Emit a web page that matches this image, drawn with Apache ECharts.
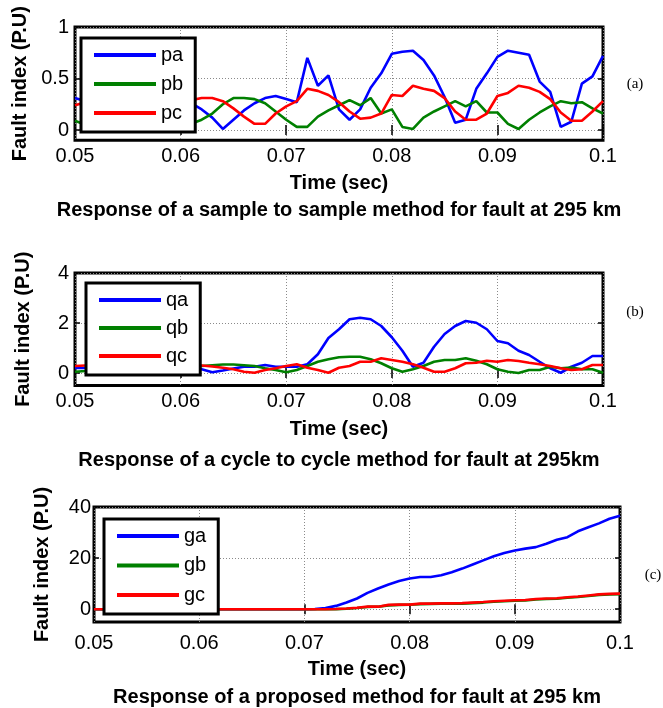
<!DOCTYPE html>
<html>
<head>
<meta charset="utf-8">
<script src="https://cdn.jsdelivr.net/npm/echarts@6/dist/echarts.min.js"></script>
<style>html,body{margin:0;padding:0;background:#fff;}#c{width:663px;height:708px;}</style>
</head>
<body>
<div id="c"></div>
<script>
// time samples (sec), one every 0.001 s from 0.05 to 0.1
const times = [0.050,0.051,0.052,0.053,0.054,0.055,0.056,0.057,0.058,0.059,
               0.060,0.061,0.062,0.063,0.064,0.065,0.066,0.067,0.068,0.069,
               0.070,0.071,0.072,0.073,0.074,0.075,0.076,0.077,0.078,0.079,
               0.080,0.081,0.082,0.083,0.084,0.085,0.086,0.087,0.088,0.089,
               0.090,0.091,0.092,0.093,0.094,0.095,0.096,0.097,0.098,0.099,0.100];

// (a) sample to sample method
const pa = [0.31,0.28,0.20,0.12,0.06,0.10,0.18,0.26,0.31,0.33,
            0.30,0.26,0.20,0.12,0.01,0.10,0.19,0.26,0.31,0.33,
            0.30,0.27,0.70,0.43,0.53,0.20,0.10,0.20,0.41,0.55,
            0.74,0.76,0.77,0.68,0.53,0.32,0.07,0.10,0.40,0.55,
            0.71,0.77,0.75,0.73,0.47,0.37,0.03,0.08,0.45,0.52,0.72];
const pb = [0.09,0.05,0.04,0.08,0.15,0.22,0.28,0.30,0.27,0.20,
            0.13,0.06,0.10,0.16,0.25,0.31,0.31,0.30,0.26,0.18,
            0.10,0.03,0.03,0.13,0.19,0.24,0.29,0.24,0.31,0.16,
            0.20,0.03,0.01,0.12,0.18,0.23,0.28,0.23,0.28,0.17,
            0.17,0.06,0.01,0.10,0.17,0.23,0.28,0.26,0.27,0.21,0.16];
const pc = [0.24,0.27,0.29,0.31,0.30,0.27,0.21,0.15,0.14,0.19,
            0.25,0.29,0.31,0.31,0.28,0.21,0.13,0.06,0.06,0.16,
            0.23,0.28,0.40,0.38,0.34,0.27,0.18,0.11,0.12,0.16,
            0.34,0.33,0.43,0.40,0.38,0.31,0.18,0.10,0.10,0.16,
            0.33,0.36,0.43,0.41,0.37,0.30,0.17,0.09,0.09,0.18,0.28];

// (b) cycle to cycle method
const qa = [0.20,0.20,0.22,0.25,0.20,0.15,0.10,0.12,0.20,0.28,
            0.30,0.25,0.15,0.03,0.10,0.18,0.25,0.25,0.32,0.25,
            0.25,0.25,0.35,0.75,1.40,1.75,2.15,2.21,2.15,1.88,
            1.43,0.89,0.25,0.41,1.05,1.56,1.88,2.08,2.01,1.75,
            1.28,1.19,0.89,0.72,0.45,0.19,0.01,0.25,0.41,0.68,0.68];
const qb = [0.05,0.08,0.12,0.18,0.22,0.25,0.25,0.22,0.18,0.15,
            0.20,0.25,0.28,0.31,0.34,0.34,0.31,0.28,0.19,0.12,
            0.03,0.12,0.28,0.45,0.55,0.63,0.65,0.65,0.55,0.39,
            0.19,0.05,0.15,0.28,0.45,0.52,0.52,0.59,0.49,0.35,
            0.15,0.05,0.00,0.12,0.12,0.25,0.19,0.22,0.15,0.15,0.01];
const qc = [0.28,0.30,0.32,0.30,0.28,0.25,0.22,0.25,0.28,0.30,
            0.32,0.33,0.30,0.26,0.21,0.15,0.05,0.01,0.12,0.19,
            0.28,0.35,0.21,0.12,0.01,0.21,0.28,0.45,0.45,0.59,
            0.52,0.45,0.35,0.21,0.05,0.05,0.19,0.39,0.41,0.49,
            0.45,0.52,0.48,0.41,0.35,0.28,0.19,0.12,0.15,0.32,0.32];

// (c) proposed method
const ga = [0,0,0,0,0,0,0,0,0,0,
            0,0,0,0,0,0,0,0,0,0,
            0,0.1,0.5,1.3,2.6,4.2,6.4,8.1,9.7,11.0,
            12.0,12.6,12.6,13.3,14.5,15.9,17.5,19.1,20.7,22.0,
            23.0,23.7,24.3,25.6,27.2,28.2,30.5,32.1,33.6,35.4,36.6];
const gb = [0,0,0,0,0,0,0,0,0,0,
            0,0,0,0,0,0,0,0,0,0,
            0,0,0,0.05,0.2,0.5,0.9,0.95,1.5,1.7,
            1.75,2.0,2.1,2.2,2.2,2.2,2.4,2.6,2.9,3.1,
            3.3,3.4,3.8,4.0,4.1,4.5,4.8,5.2,5.6,5.8,5.9];
const gc = [0,0,0,0,0,0,0,0,0,0,
            0,0,0,0,0,0,0,0,0,0,
            0,0,0,0.1,0.3,0.6,1.0,1.0,1.7,1.8,
            1.8,2.2,2.2,2.3,2.3,2.4,2.6,2.8,3.1,3.3,
            3.5,3.6,4.0,4.2,4.3,4.7,5.0,5.4,5.8,6.0,6.1];

const yTicksA = [0, 0.5, 1];
const yTicksB = [0, 2, 4];
const yTicksC = [0, 20, 40];

const titles = ['Response of a sample to sample method for fault at 295 km',
                'Response of a cycle to cycle method for fault at 295km',
                'Response of a proposed method for fault at 295 km'];
const panelTags = ['(a)', '(b)', '(c)'];
const xName = 'Time (sec)';
const yName = 'Fault index (P.U)';

const FONT = '"Liberation Sans", Arial, sans-serif';
const colors = ['#0000ff', '#008000', '#ff0000'];

const panels = [
  {grid:{left:75, top:27, width:528, height:113.3}, ymin:-0.1, ymax:1, yt:yTicksA, names:['pa','pb','pc'], vals:[pa,pb,pc],
   legend:{left:81, top:38, gap:9}, ylm:6, xlm:6, xng:33, title:{x:339, y:210}, tag:{x:635, y:84}},
  {grid:{left:75, top:273, width:528, height:112.5}, ymin:-0.5, ymax:4, yt:yTicksB, names:['qa','qb','qc'], vals:[qa,qb,qc],
   legend:{left:86, top:283, gap:8}, ylm:6, xlm:6, xng:34, title:{x:339, y:460}, tag:{x:635, y:312}},
  {grid:{left:94, top:507, width:526, height:115}, ymin:-5, ymax:40, yt:yTicksC, names:['ga','gb','gc'], vals:[ga,gb,gc],
   legend:{left:104, top:519, gap:9.5}, ylm:3, xlm:11, xng:37, title:{x:357, y:697}, tag:{x:653, y:575}}
];

const grid = [], xAxis = [], yAxis = [], series = [], legend = [], graphic = [];
const fmtX = v => String(parseFloat(v.toFixed(2)));

panels.forEach((p, i) => {
  grid.push(Object.assign({show:true, borderColor:'#000', borderWidth:3, backgroundColor:'#fff', containLabel:false}, p.grid));
  // bottom x axis
  xAxis.push({type:'value', gridIndex:i, min:0.05, max:0.1, interval:0.01, position:'bottom',
    axisLine:{show:false}, axisTick:{inside:true, length:5, lineStyle:{color:'#000', width:1.5}},
    axisLabel:{fontSize:20, color:'#000', fontFamily:FONT, margin:p.xlm, formatter:fmtX},
    splitLine:{show:true, lineStyle:{color:'#8a8a8a', type:[1,2], width:1}},
    name:xName, nameLocation:'middle', nameGap:p.xng,
    nameTextStyle:{fontSize:20, fontWeight:'bold', color:'#000', fontFamily:FONT}});
  // top x axis (ticks only)
  xAxis.push({type:'value', gridIndex:i, min:0.05, max:0.1, interval:0.01, position:'top',
    axisLine:{show:false}, axisTick:{inside:true, length:5, lineStyle:{color:'#000', width:1.5}},
    axisLabel:{show:false}, splitLine:{show:false}});
  // left y axis
  yAxis.push({type:'value', gridIndex:i, min:p.ymin, max:p.ymax, position:'left',
    axisLine:{show:false},
    axisTick:{inside:true, length:5, customValues:p.yt, lineStyle:{color:'#000', width:1.5}},
    axisLabel:{fontSize:20, color:'#000', fontFamily:FONT, margin:p.ylm, customValues:p.yt},
    splitLine:{show:true, lineStyle:{color:'#8a8a8a', type:[1,2], width:1}},
    name:yName, nameLocation:'middle', nameGap:42, nameRotate:90,
    nameTextStyle:{fontSize:20, fontWeight:'bold', color:'#000', fontFamily:FONT}});
  // right y axis (ticks only)
  yAxis.push({type:'value', gridIndex:i, min:p.ymin, max:p.ymax, position:'right',
    axisLine:{show:false},
    axisTick:{inside:true, length:5, customValues:p.yt, lineStyle:{color:'#000', width:1.5}},
    axisLabel:{show:false, customValues:p.yt}, splitLine:{show:false}});

  p.names.forEach((n, k) => {
    series.push({type:'line', name:n, xAxisIndex:i*2, yAxisIndex:i*2,
      data: times.map((t, j) => [t, p.vals[k][j]]),
      showSymbol:false, symbol:'none', smooth:false, animation:false,
      lineStyle:{color:colors[k], width:2.6}, itemStyle:{color:colors[k]}, z:2});
  });

  legend.push({data:p.names, orient:'vertical', left:p.legend.left, top:p.legend.top, z:20,
    backgroundColor:'#fff', borderColor:'#000', borderWidth:3, borderRadius:0,
    padding:[7,12,9,13], itemWidth:62, itemHeight:4, itemGap:p.legend.gap, icon:'rect',
    selectedMode:false,
    textStyle:{fontSize:20, color:'#000', fontFamily:FONT, lineHeight:20}});

  graphic.push({type:'text', x:p.title.x, y:p.title.y, silent:true,
    style:{text:titles[i], fontSize:20, fontWeight:'bold', fontFamily:FONT, fill:'#000', align:'center', verticalAlign:'middle'}});
  graphic.push({type:'text', x:p.tag.x, y:p.tag.y, silent:true,
    style:{text:panelTags[i], fontSize:15, fontFamily:'"Liberation Serif", "Times New Roman", serif', fill:'#000', align:'center', verticalAlign:'middle'}});
});

const chart = echarts.init(document.getElementById('c'), null, {renderer:'canvas'});
chart.setOption({animation:false, backgroundColor:'#fff', grid, xAxis, yAxis, series, legend, graphic});
</script>
</body>
</html>
